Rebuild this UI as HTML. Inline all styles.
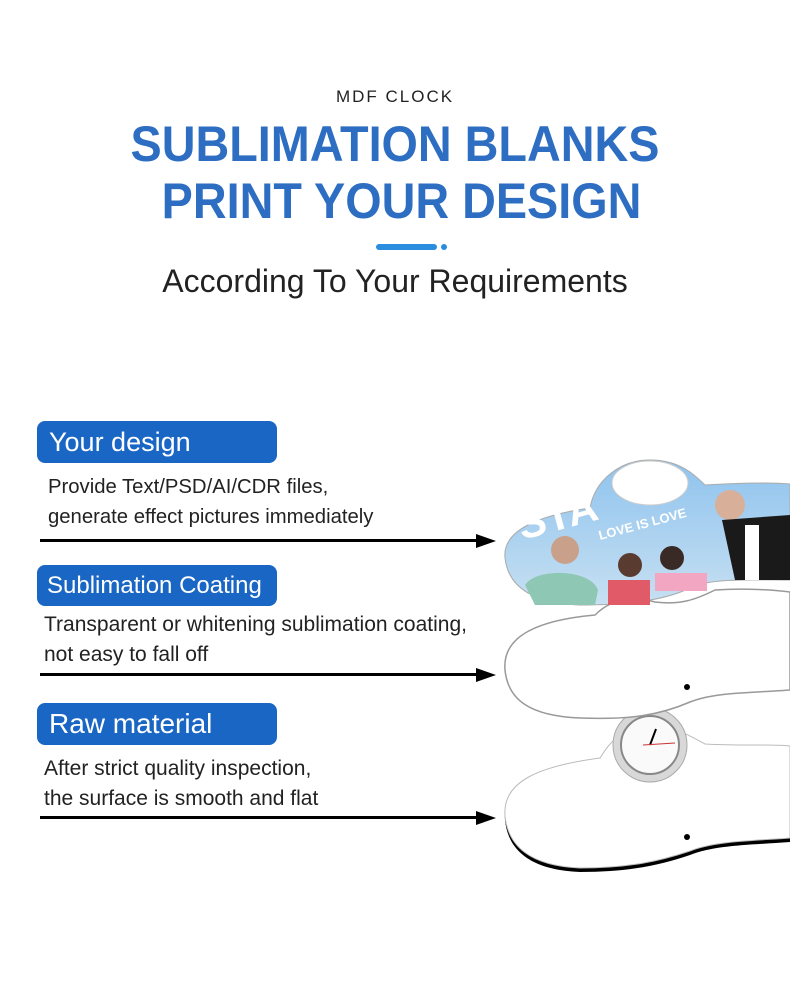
<!DOCTYPE html>
<html><head><meta charset="utf-8"><style>
body{margin:0;width:790px;height:995px;background:#fff;position:relative;overflow:hidden;font-family:"Liberation Sans",sans-serif}
.a{position:absolute}
.c{left:0;width:790px;text-align:center}
.lab{position:absolute;left:37px;width:240px;background:#1a66c4;color:#fff;border-radius:8px;font-size:27px;box-sizing:border-box;padding-left:12px;white-space:nowrap}
.t{position:absolute;left:44px;font-size:21px;color:#222;line-height:30px;white-space:nowrap}
.ln{position:absolute;left:40px;width:446px;height:3px;background:#000}
.ar{position:absolute;left:476px;width:0;height:0;border-left:20px solid #000;border-top:7px solid transparent;border-bottom:7px solid transparent}
</style></head><body>
<div class="a c" style="top:87px;font-size:17px;letter-spacing:2px;color:#222">MDF CLOCK</div>
<div class="a c" style="top:116px;font-size:50px;font-weight:bold;color:#2d6ec2;line-height:57px;transform:scaleX(0.935);transform-origin:center">SUBLIMATION BLANKS<br>&nbsp;PRINT YOUR DESIGN</div>
<div class="a" style="left:376px;top:244px;width:61px;height:6px;border-radius:3px;background:#2a8de0"></div>
<div class="a" style="left:441px;top:244px;width:6px;height:6px;border-radius:3px;background:#2a8de0"></div>
<div class="a c" style="top:263px;font-size:32px;color:#222">According To Your Requirements</div>

<div class="lab" style="top:421px;height:42px;line-height:42px">Your design</div>
<div class="t" style="top:472px;left:48px;font-size:20.3px">Provide Text/PSD/AI/CDR files,<br>generate effect pictures immediately</div>
<div class="ln" style="top:539px"></div><div class="ar" style="top:534px"></div>

<div class="lab" style="top:565px;height:41px;line-height:41px;font-size:24px;padding-left:10px">Sublimation Coating</div>
<div class="t" style="top:610px">Transparent or whitening sublimation coating,<br>not easy to fall off</div>
<div class="ln" style="top:673px"></div><div class="ar" style="top:668px"></div>

<div class="lab" style="top:703px;height:42px;line-height:42px;font-size:28px">Raw material</div>
<div class="t" style="top:754px">After strict quality inspection,<br>the surface is smooth and flat</div>
<div class="ln" style="top:816px"></div><div class="ar" style="top:811px"></div>

<svg class="a" style="left:490px;top:440px" width="300" height="450" viewBox="0 0 300 450">
<defs><linearGradient id="sky" x1="0" y1="0" x2="0" y2="1"><stop offset="0" stop-color="#8fc3ee"/><stop offset="1" stop-color="#c7e0f2"/></linearGradient></defs>
<!-- bottom raw -->
<path d="M15,380 C12,345 50,330 110,322 C118,310 125,295 160,290 C185,290 200,300 215,308 C250,310 285,308 300,310 L300,402 C260,405 225,405 200,415 C170,425 140,432 90,432 C40,430 18,410 15,380Z" fill="#000"/>
<path d="M15,376 C12,341 50,326 110,318 C118,306 125,291 160,286 C185,286 200,296 215,304 C250,306 285,304 300,306 L300,398 C260,401 225,401 200,411 C170,421 140,428 90,428 C40,426 18,406 15,376Z" fill="#fff" stroke="#bbb"/>
<circle cx="160" cy="305" r="37" fill="#d8d8d8" stroke="#aaa"/><circle cx="160" cy="305" r="29" fill="#fafafa" stroke="#888" stroke-width="2"/>
<line x1="160" y1="305" x2="166" y2="289" stroke="#000" stroke-width="2"/><line x1="153" y1="305" x2="185" y2="303" stroke="#c33" stroke-width="1"/>
<circle cx="197" cy="397" r="3" fill="#000"/>
<!-- middle coating -->
<path d="M15,230 C12,195 50,180 105,175 C120,160 140,155 165,162 C190,165 205,160 225,150 C255,148 285,150 300,152 L300,250 C260,253 225,252 200,262 C170,275 140,280 90,278 C40,276 18,260 15,230Z" fill="#fff" stroke="#999" stroke-width="1.5"/>
<circle cx="197" cy="247" r="3" fill="#000"/>
<!-- top photo -->
<path d="M15,118 C12,90 50,75 100,68 C105,40 130,20 160,20 C190,20 205,35 215,45 C250,43 280,42 300,44 L300,140 C260,140 220,138 200,148 C175,160 140,165 90,165 C40,163 18,145 15,118 Z" fill="url(#sky)" stroke="#aaa"/>
<ellipse cx="160" cy="43" rx="38" ry="22" fill="#fff" stroke="#ccc"/>
<text x="32" y="100" font-size="42" font-weight="bold" fill="#fff" font-family="Liberation Sans" transform="rotate(-15 32 100)">STA</text>
<text x="110" y="100" font-size="13" font-weight="bold" fill="#fff" font-family="Liberation Sans" transform="rotate(-15 110 100)">LOVE IS LOVE</text>
<circle cx="75" cy="110" r="14" fill="#c9a08a"/><path d="M35,145 C45,128 100,128 108,150 L105,165 L45,165Z" fill="#8fc7b5"/>
<circle cx="140" cy="125" r="12" fill="#5a3b30"/><rect x="118" y="140" width="42" height="25" fill="#e05a68"/>
<circle cx="182" cy="118" r="12" fill="#3a2a25"/><rect x="165" y="133" width="52" height="18" fill="#f2a6c2"/>
<circle cx="240" cy="65" r="15" fill="#d8b09a"/><path d="M232,80 L300,75 L300,140 L245,140Z" fill="#1a1a1a"/><rect x="255" y="85" width="14" height="55" fill="#fff"/>
</svg>
</body></html>
